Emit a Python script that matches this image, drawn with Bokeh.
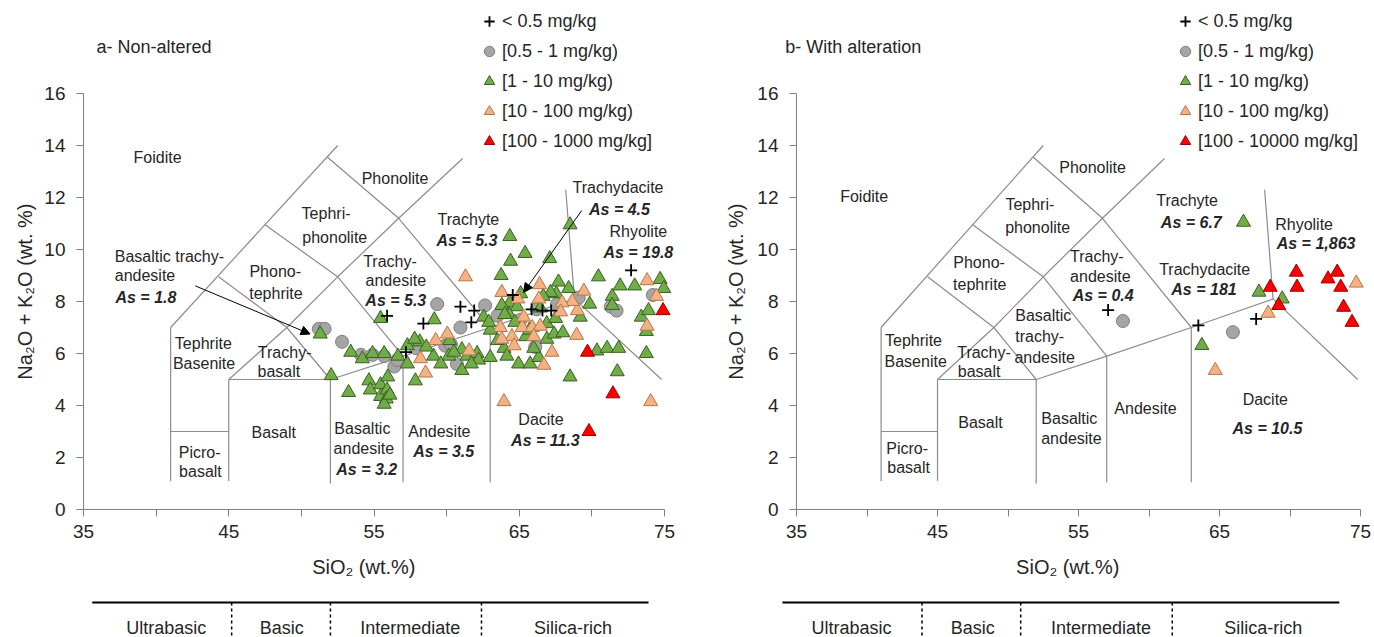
import math
from bokeh.plotting import figure
from bokeh.layouts import row
from bokeh.models import (Range1d, FixedTicker, Legend, LegendItem, Arrow,
                          NormalHead, ColumnDataSource)
from bokeh.core.properties import value
from bokeh.embed import file_html
from bokeh.resources import INLINE

FONT = "Liberation Sans"

# ------------------------------------------------------------------ data
# Panel a - Non-altered : SiO2 (wt.%) / Na2O+K2O (wt.%) per As class
a_lt05_sio2 = [55.9, 57.2, 58.4, 60.95, 61.7, 61.9, 64.55, 65.85, 66.6, 67.2, 72.7]
a_lt05_alk = [7.45, 6.05, 7.15, 7.8, 7.2, 7.65, 8.25, 7.7, 7.65, 7.65, 9.2]

a_05_1_sio2 = [51.2, 51.6, 52.8, 54.1, 54.9, 55.7, 56.4, 56.6, 57.9, 59.35, 59.9, 60.3,
               60.95, 60.7, 62.65, 63.5, 65.1, 66.2, 66.1, 67.6, 69.1, 71.3, 71.7, 74.2]
a_05_1_alk = [6.95, 6.95, 6.45, 5.95, 5.95, 5.9, 5.5, 5.75, 6.2, 7.9, 6.3, 6.35,
              7.0, 5.6, 7.85, 7.45, 7.3, 7.7, 6.25, 7.9, 8.15, 7.8, 7.65, 8.25]

a_1_10_sio2 = [51.3, 52.05, 53.4, 53.25, 54.2, 54.9, 55.7, 56.65, 55.45, 54.65, 54.75, 55.45,
               55.45, 55.95, 55.9, 55.85, 55.7, 56.1, 57.3, 57.3, 57.85, 58.15, 59.15, 59.1,
               60.15, 61.05, 61.05, 57.8, 58.6, 59.6, 60.5, 61.4, 60.2,
               68.5, 64.35, 65.4, 64.4, 67.1, 63.75, 70.45, 71.95, 72.95, 74.7, 74.95, 71.4,
               71.4, 73.4, 73.9, 73.75, 73.75, 71.75, 68.5, 70.35, 71.05, 71.85, 69.2, 69.85,
               68.4, 67.7, 67.55, 67.15, 66.65, 66.45, 64.35, 64.85, 62.55, 64.3, 66.9, 67.5,
               63.0, 63.95, 65.45, 66.9, 67.4, 62.1, 62.2, 63.0, 64.15, 64.95, 65.75, 66.35,
               61.7, 63.8, 64.0, 64.7, 65.7, 63.5, 66.0, 68.0, 65.1, 62.9]
a_1_10_alk = [6.75, 5.15, 6.05, 4.5, 5.8, 6.0, 6.0, 5.9, 7.35, 4.95, 4.6, 4.8,
              4.35, 5.1, 4.6, 4.25, 4.05, 4.4, 6.3, 5.6, 4.95, 6.45, 7.3, 5.9,
              5.9, 6.15, 5.35, 6.55, 6.25, 5.6, 6.05, 5.9, 6.5,
              10.95, 10.5, 9.85, 9.55, 9.65, 9.0, 8.95, 8.6, 8.6, 8.85, 8.5, 8.2,
              7.85, 7.4, 7.65, 6.85, 6.0, 5.3, 5.1, 6.1, 6.2, 6.2, 7.4, 7.9,
              8.5, 8.75, 8.3, 8.35, 8.2, 7.75, 7.95, 7.8, 7.4, 7.5, 7.15, 7.35,
              6.9, 6.2, 6.65, 6.55, 6.75, 6.0, 5.75, 5.85, 5.9, 5.6, 5.6, 5.85,
              5.6, 7.85, 7.5, 7.2, 6.9, 6.5, 6.2, 6.8, 8.3, 7.2]

a_10_100_sio2 = [58.2, 59.25, 58.55, 60.05, 61.55, 61.3, 73.8, 74.45, 73.8, 74.05, 68.95,
                 69.45, 69.0, 68.65, 67.95, 67.85, 66.4, 66.35, 63.8, 63.7, 65.2, 65.9,
                 66.45, 64.5, 63.8, 64.65, 66.0, 67.25, 66.7, 63.95, 65.3, 64.9]
a_10_100_alk = [5.8, 6.5, 5.25, 6.75, 6.1, 8.95, 8.8, 8.2, 7.05, 4.15, 6.7,
                8.4, 7.65, 8.0, 7.95, 7.6, 8.65, 8.1, 8.35, 7.0, 7.0, 7.0,
                7.05, 6.65, 6.55, 6.3, 6.65, 6.05, 5.55, 4.15, 7.4, 8.1]

a_100_1000_sio2 = [69.7, 71.45, 74.9, 69.8]
a_100_1000_alk = [6.05, 4.45, 7.65, 3.0]

# Panel b - With alteration
b_lt05_sio2 = [57.1, 63.5, 67.6]
b_lt05_alk = [7.67, 7.08, 7.33]
b_05_1_sio2 = [58.15, 65.95]
b_05_1_alk = [7.25, 6.82]
b_1_10_sio2 = [66.7, 67.8, 69.45, 63.75]
b_1_10_alk = [11.05, 8.36, 8.1, 6.31]
b_10_100_sio2 = [74.7, 68.45, 64.7]
b_10_100_alk = [8.71, 7.55, 5.35]
b_100_10000_sio2 = [70.45, 70.5, 72.7, 73.35, 73.6, 73.8, 74.4, 68.6, 69.2]
b_100_10000_alk = [9.13, 8.55, 8.87, 9.13, 8.55, 7.78, 7.2, 8.55, 7.85]

LEGEND_A = ["< 0.5 mg/kg", "[0.5 - 1 mg/kg)", "[1 - 10 mg/kg)", "[10 - 100 mg/kg)",
            "[100 - 1000 mg/kg]"]
LEGEND_B = ["< 0.5 mg/kg", "[0.5 - 1 mg/kg)", "[1 - 10 mg/kg)", "[10 - 100 mg/kg)",
            "[100 - 10000 mg/kg]"]

X_TICKS = [35, 40, 45, 50, 55, 60, 65, 70, 75]
X_LABELLED = [35, 45, 55, 65, 75]
Y_TICKS = [0, 2, 4, 6, 8, 10, 12, 14, 16]

# TAS classification boundaries (SiO2, Na2O+K2O)
TAS_X = [[41, 41], [41, 52.5], [41, 45], [45, 45], [45, 52], [45, 49, 52], [44.3, 49],
         [47.5, 52.5, 57], [49, 52.5, 56.7, 61.1], [51.8, 56.7, 63],
         [52, 52, 57, 63, 68.8], [57, 57], [63, 63], [68.2, 68.8, 74.8]]
TAS_Y = [[1.1, 7], [7, 14], [3, 3], [1.1, 5], [5, 5], [5, 7, 5], [8.95, 7],
         [10.95, 8.95, 5.9], [7, 8.95, 11.2, 13.5], [13.55, 11.2, 7],
         [1.0, 5, 5.9, 7, 8.1], [1.05, 5.9], [1.05, 7], [12.3, 8.1, 5.0]]

# silica classes (SiO2 limits of the bar under each diagram)
CLASS_NAMES = ["Ultrabasic", "Basic", "Intermediate", "Silica-rich"]
A_CLASS_LINE = [35.6, 73.9]
A_CLASS_SEPS = [45.2, 52.0, 62.4]
A_CLASS_MID = [40.7, 48.65, 57.5, 68.7]
B_CLASS_LINE = [34.0, 73.5]
B_CLASS_SEPS = [43.9, 50.9, 61.65]
B_CLASS_MID = [38.9, 47.5, 56.6, 68.1]

# ------------------------------------------------------------------ annotations
A_NORMAL = [("Foidite", 40.1, 13.55), ("Phonolite", 56.45, 12.75), ("Tephri-", 51.7, 11.4),
            ("phonolite", 52.3, 10.45), ("Trachydacite", 71.8, 12.4), ("Trachyte", 61.5, 11.15),
            ("Rhyolite", 73.2, 10.7), ("Phono-", 48.2, 9.15), ("tephrite", 48.25, 8.3),
            ("Trachy-", 56.1, 9.55), ("andesite", 56.5, 8.8), ("Tephrite", 43.25, 6.4),
            ("Basenite", 43.3, 5.6), ("Trachy-", 48.85, 6.05), ("basalt", 48.45, 5.3),
            ("Basalt", 48.1, 2.95), ("Picro-", 43.0, 2.2), ("basalt", 43.05, 1.45),
            ("Basaltic", 54.2, 3.1), ("andesite", 54.3, 2.35), ("Andesite", 59.5, 3.0),
            ("Dacite", 66.5, 3.45)]
A_NORMAL_LEFT = [("Basaltic trachy-", 37.15, 9.75), ("andesite", 37.15, 9.0)]
A_BOLD = [("As = 4.5", 71.9, 11.55), ("As = 5.3", 61.4, 10.35), ("As = 19.8", 73.2, 9.9),
          ("As = 5.3", 56.5, 8.05), ("As = 3.2", 54.5, 1.55), ("As = 3.5", 59.8, 2.25),
          ("As = 11.3", 66.8, 2.65)]
A_BOLD_LEFT = [("As = 1.8", 37.2, 8.15)]
A_ARROWS = [(42.7, 8.6, 50.6, 6.75), (69.3, 11.5, 65.3, 8.35)]
A_TITLE = ("a- Non-altered", 35.9, 17.8)
A_XLABEL = (54.3, -2.23)
A_YLABEL = (31.0, 8.38)

B_NORMAL = [("Foidite", 39.8, 12.05), ("Phonolite", 56.0, 13.15), ("Tephri-", 51.55, 11.75),
            ("phonolite", 52.1, 10.85), ("Trachyte", 62.7, 11.9), ("Rhyolite", 71.0, 10.95),
            ("Phono-", 47.95, 9.5), ("tephrite", 48.0, 8.65), ("Trachy-", 56.3, 9.75),
            ("andesite", 56.55, 8.95), ("Trachydacite", 63.95, 9.22), ("Basaltic", 52.5, 7.45),
            ("trachy-", 52.25, 6.65), ("andesite", 52.6, 5.85), ("Tephrite", 43.3, 6.5),
            ("Basenite", 43.45, 5.7), ("Trachy-", 48.3, 6.05), ("basalt", 47.95, 5.3),
            ("Basalt", 48.05, 3.35), ("Picro-", 42.85, 2.35), ("basalt", 42.95, 1.6),
            ("Basaltic", 54.35, 3.5), ("andesite", 54.5, 2.75), ("Andesite", 59.75, 3.9),
            ("Dacite", 68.25, 4.25)]
B_BOLD = [("As = 6.7", 63.0, 11.02), ("As = 1,863", 71.85, 10.23), ("As = 0.4", 56.75, 8.25),
          ("As = 181", 63.9, 8.47), ("As = 10.5", 68.4, 3.1)]
B_TITLE = ("b- With alteration", 34.2, 17.8)
B_XLABEL = (54.24, -2.23)
B_YLABEL = (30.74, 8.38)

STYLES = [
    dict(marker="cross", size=12, line_color="black", line_width=1.8),
    dict(marker="circle", size=13, fill_color="#A5A5A5", line_color="#7F7F7F", line_width=1),
    dict(marker="triangle", size=14, fill_color="#70AD47", line_color="#3A5F23", line_width=1),
    dict(marker="triangle", size=14, fill_color="#F4B183", line_color="#B5764A", line_width=1),
    dict(marker="triangle", size=14, fill_color="#FF0000", line_color="#990000", line_width=1),
]
DRAW_ORDER = [1, 2, 3, 4, 0]
TEXT_COL = "#262626"

# ------------------------------------------------------------------ layout (pixels)
H = 637
Y0_PX, Y16_PX = 509, 93          # where 0 and 16 fall (from top of canvas)
BAR_Y_PX, BAR_TEXT_PX = 602, 627


def px_to_y(py):
    return (Y0_PX - py) * 16.0 / (Y0_PX - Y16_PX)


def add_texts(p, items, size, style, align, angle=0.0):
    if not items:
        return
    src = ColumnDataSource(dict(x=[i[1] for i in items], y=[i[2] for i in items],
                                t=[i[0] for i in items]))
    p.text(x="x", y="y", text="t", source=src, text_font=value(FONT),
           text_font_size=value(size), text_font_style=style, text_align=align,
           text_baseline="middle", text_color=TEXT_COL, angle=angle)


def make_panel(W, x35_px, x75_px, legend_left_px, series, legend_labels, title, xlabel,
               ylabel, normal, normal_left, bold, bold_left, arrows, cls_line, cls_seps,
               cls_mid):
    s = (x75_px - x35_px) / 40.0
    p = figure(width=W, height=H,
               x_range=Range1d(35 - x35_px / s, 35 + (W - x35_px) / s),
               y_range=Range1d(px_to_y(H), px_to_y(0)),
               output_backend="svg", toolbar_location=None, min_border=0)
    p.outline_line_color = None
    p.xgrid.visible = False
    p.ygrid.visible = False
    p.xaxis.fixed_location = 0
    p.yaxis.fixed_location = 35
    p.xaxis.bounds = (35, 75)
    p.yaxis.bounds = (0, 16)
    p.xaxis.ticker = FixedTicker(ticks=X_TICKS)
    p.xaxis.major_label_overrides = {t: "" for t in X_TICKS if t not in X_LABELLED}
    p.yaxis.ticker = FixedTicker(ticks=Y_TICKS)
    for ax in p.axis:
        ax.axis_line_color = "#808080"
        ax.major_tick_line_color = "#808080"
        ax.minor_tick_line_color = None
        ax.major_tick_in = 0
        ax.major_tick_out = 7
        ax.major_label_text_font = FONT
        ax.major_label_text_font_size = "19px"
        ax.major_label_text_color = TEXT_COL
    p.xaxis.major_label_standoff = 8
    p.yaxis.major_label_standoff = 11

    p.multi_line(TAS_X, TAS_Y, line_color="#8C8C8C", line_width=1.2)

    add_texts(p, normal, "16px", "normal", "center")
    add_texts(p, normal_left, "16px", "normal", "left")
    add_texts(p, bold, "16px", "bold italic", "center")
    add_texts(p, bold_left, "16px", "bold italic", "left")
    add_texts(p, [title], "18px", "normal", "left")
    add_texts(p, [("SiO\u2082 (wt.%)",) + xlabel], "20px", "normal", "center")
    add_texts(p, [("Na\u2082O + K\u2082O (wt. %)",) + ylabel], "20px", "normal", "center",
              angle=math.pi / 2)

    for (xs, ys, xe, ye) in arrows:
        p.add_layout(Arrow(x_start=xs, y_start=ys, x_end=xe, y_end=ye, line_color="black",
                           line_width=1,
                           end=NormalHead(size=9, fill_color="black", line_color="black")))

    rends = [None] * 5
    for k in DRAW_ORDER:
        sx, sy = series[k]
        rends[k] = p.scatter(sx, sy, **STYLES[k])

    # silica class bar below the diagram
    yb = px_to_y(BAR_Y_PX)
    p.line(cls_line, [yb, yb], line_color="black", line_width=2)
    p.segment(x0=cls_seps, y0=[yb] * len(cls_seps), x1=cls_seps,
              y1=[px_to_y(H + 5)] * len(cls_seps),
              line_color="black", line_width=1.5, line_dash="3 3")
    add_texts(p, [(n, m, px_to_y(BAR_TEXT_PX)) for n, m in zip(CLASS_NAMES, cls_mid)],
              "18px", "normal", "center")

    legend = Legend(items=[LegendItem(label=lab, renderers=[r])
                           for lab, r in zip(legend_labels, rends)],
                    location=(legend_left_px, H - 155), orientation="vertical",
                    glyph_width=26, glyph_height=28, label_height=28, spacing=2,
                    padding=0, margin=0, label_standoff=0,
                    background_fill_alpha=0, border_line_color=None,
                    label_text_font=FONT, label_text_font_size="18px",
                    label_text_color=TEXT_COL)
    p.add_layout(legend)
    return p


pa = make_panel(690, 83, 664, 476,
                [(a_lt05_sio2, a_lt05_alk), (a_05_1_sio2, a_05_1_alk),
                 (a_1_10_sio2, a_1_10_alk), (a_10_100_sio2, a_10_100_alk),
                 (a_100_1000_sio2, a_100_1000_alk)],
                LEGEND_A, A_TITLE, A_XLABEL, A_YLABEL,
                A_NORMAL, A_NORMAL_LEFT, A_BOLD, A_BOLD_LEFT, A_ARROWS,
                A_CLASS_LINE, A_CLASS_SEPS, A_CLASS_MID)
pb = make_panel(684, 106, 670, 482,
                [(b_lt05_sio2, b_lt05_alk), (b_05_1_sio2, b_05_1_alk),
                 (b_1_10_sio2, b_1_10_alk), (b_10_100_sio2, b_10_100_alk),
                 (b_100_10000_sio2, b_100_10000_alk)],
                LEGEND_B, B_TITLE, B_XLABEL, B_YLABEL,
                B_NORMAL, [], B_BOLD, [], [],
                B_CLASS_LINE, B_CLASS_SEPS, B_CLASS_MID)

layout = row(pa, pb)

with open("out.html", "w") as f:
    f.write(file_html(layout, INLINE))
